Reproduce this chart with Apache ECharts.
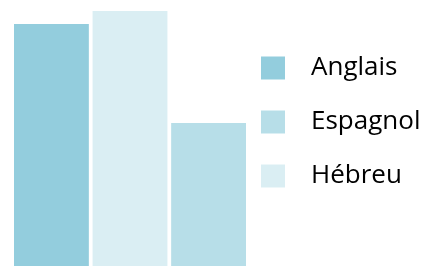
<!DOCTYPE html>
<html>
<head>
<meta charset="UTF-8">
<title>Langues</title>
<script src="https://cdn.jsdelivr.net/npm/echarts@6/dist/echarts.min.js"></script>
<style>
  html, body { margin: 0; padding: 0; background: #fff; }
  #chart { width: 427px; height: 266px; }
</style>
</head>
<body>
<div id="chart"></div>
<script>
    // data (bars are cut at the bottom, units are relative)
    var categories = [''];
    var seriesNames = ['Anglais', 'Hébreu', 'Espagnol'];
    var legendOrder = ['Anglais', 'Espagnol', 'Hébreu'];
    var values = [242, 255, 143];
    var colors = ['#93CDDD', '#DAEEF3', '#B7DEE8'];

    var myChart = echarts.init(document.getElementById('chart'));

    var series = [];
    for (var i = 0; i < seriesNames.length; i++) {
        series.push({
            name: seriesNames[i],
            type: 'bar',
            data: [values[i]],
            itemStyle: { color: colors[i] },
            barGap: '5%',
            barCategoryGap: '0%'
        });
    }

    var option = {
        animation: false,
        grid: { left: 14, top: 0, width: 232, bottom: 0 },
        legend: {
            orient: 'vertical',
            left: 256,
            top: 50,
            itemWidth: 24,
            itemHeight: 23,
            itemGap: 28,
            icon: 'rect',
            data: legendOrder,
            textStyle: {
                fontFamily: 'Open Sans',
                fontSize: 26,
                color: '#000',
                padding: [0, 0, 0, 21]
            }
        },
        xAxis: { type: 'category', data: categories, show: false },
        yAxis: { type: 'value', min: 0, max: 266, show: false },
        series: series
    };
    myChart.setOption(option);
</script>
</body>
</html>
